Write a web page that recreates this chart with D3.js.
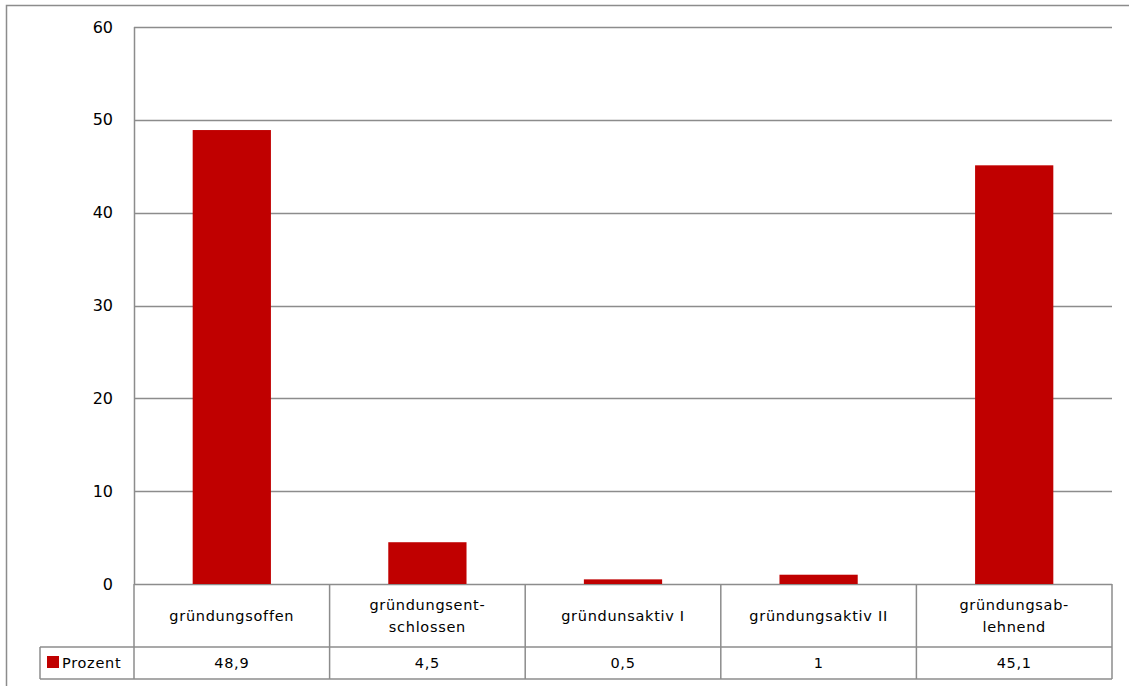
<!DOCTYPE html>
<html>
<head>
<meta charset="utf-8">
<script src="https://cdn.jsdelivr.net/npm/d3@7"></script>
<style>
  html, body { margin: 0; padding: 0; background: #fff; }
  svg { display: block; }
  text { font-family: "DejaVu Sans", sans-serif; fill: #000; }
</style>
</head>
<body>
<svg id="chart" width="1129" height="686"></svg>
<script>
// Data
const categories = [
  ["gründungsoffen"],
  ["gründungsent-", "schlossen"],
  ["gründunsaktiv I"],
  ["gründungsaktiv II"],
  ["gründungsab-", "lehnend"]
];
const values = [48.9, 4.5, 0.5, 1, 45.1];
const valueLabels = ["48,9", "4,5", "0,5", "1", "45,1"];
const seriesName = "Prozent";
const yTicks = [0, 10, 20, 30, 40, 50, 60];

const svg = d3.select("#chart");
const W = 1129, H = 686;
const plot = { left: 134, right: 1112, top: 27, bottom: 584 };
const rowCatBottom = 647, rowDataBottom = 679, legendLeft = 40;
const gridColor = "#8c8c8c";
const barColor = "#c00000";
const labelSize = 14.5, labelSpacing = "0.7px";

// Outer chart frame
svg.append("rect")
  .attr("x", 6.5).attr("y", 5.5)
  .attr("width", W + 10).attr("height", H + 10)
  .attr("fill", "none").attr("stroke", gridColor).attr("stroke-width", 1.5);

const x = d3.scaleBand()
  .domain(d3.range(categories.length))
  .range([plot.left, plot.right])
  .paddingInner(0).paddingOuter(0);

const y = d3.scaleLinear().domain([0, 60]).range([plot.bottom, plot.top]);

// Horizontal gridlines
svg.append("g").selectAll("line")
  .data(yTicks)
  .join("line")
  .attr("x1", plot.left).attr("x2", plot.right)
  .attr("y1", d => Math.round(y(d)) + 0.5).attr("y2", d => Math.round(y(d)) + 0.5)
  .attr("stroke", gridColor).attr("stroke-width", 1.5);

// Value axis labels
const yAxis = d3.axisLeft(y).tickValues(yTicks).tickSize(0).tickPadding(21);
const ya = svg.append("g").attr("transform", `translate(${plot.left},0)`).call(yAxis);
ya.select(".domain").remove();
ya.selectAll("text")
  .attr("font-family", "DejaVu Sans, sans-serif")
  .attr("font-size", 16)
  .attr("fill", "#000");

// Vertical axis line
svg.append("line")
  .attr("x1", plot.left + 0.5).attr("x2", plot.left + 0.5)
  .attr("y1", plot.top).attr("y2", plot.bottom)
  .attr("stroke", gridColor).attr("stroke-width", 1.5);

// Bars
const barW = x.bandwidth() * 0.4;
svg.append("g").selectAll("rect")
  .data(values)
  .join("rect")
  .attr("x", (d, i) => x(i) + (x.bandwidth() - barW) / 2)
  .attr("y", d => y(d))
  .attr("width", barW)
  .attr("height", d => y(0) - y(d))
  .attr("fill", barColor);

// Data table
const tbl = svg.append("g").attr("fill", "none").attr("stroke", gridColor).attr("stroke-width", 1.5);
tbl.append("line").attr("x1", legendLeft).attr("x2", plot.right)
  .attr("y1", rowCatBottom).attr("y2", rowCatBottom);
tbl.append("line").attr("x1", legendLeft).attr("x2", plot.right)
  .attr("y1", rowDataBottom).attr("y2", rowDataBottom);
tbl.append("line").attr("x1", legendLeft).attr("x2", legendLeft)
  .attr("y1", rowCatBottom).attr("y2", rowDataBottom);
tbl.selectAll(".sep")
  .data(d3.range(categories.length + 1))
  .join("line")
  .attr("x1", i => i < categories.length ? x(i) : plot.right)
  .attr("x2", i => i < categories.length ? x(i) : plot.right)
  .attr("y1", plot.bottom).attr("y2", rowDataBottom);

// Category labels
const catG = svg.append("g");
categories.forEach((lines, i) => {
  const cx = x(i) + x.bandwidth() / 2;
  const midY = (plot.bottom + rowCatBottom) / 2;
  const lh = 22;
  lines.forEach((t, j) => {
    catG.append("text")
      .attr("x", cx)
      .attr("y", midY + (j - (lines.length - 1) / 2) * lh)
      .attr("dy", "0.35em")
      .attr("text-anchor", "middle")
      .attr("font-size", labelSize)
      .attr("letter-spacing", labelSpacing)
      .text(t);
  });
});

// Value row
svg.append("g").selectAll("text")
  .data(valueLabels)
  .join("text")
  .attr("x", (d, i) => x(i) + x.bandwidth() / 2)
  .attr("y", (rowCatBottom + rowDataBottom) / 2)
  .attr("dy", "0.35em")
  .attr("text-anchor", "middle")
  .attr("font-size", labelSize)
  .attr("letter-spacing", labelSpacing)
  .text(d => d);

// Legend key in the table
const ly = (rowCatBottom + rowDataBottom) / 2;
svg.append("rect")
  .attr("x", 47).attr("y", ly - 7)
  .attr("width", 12).attr("height", 12)
  .attr("fill", barColor);
svg.append("text")
  .attr("x", 62).attr("y", ly).attr("dy", "0.35em")
  .attr("font-size", labelSize)
  .attr("letter-spacing", labelSpacing)
  .text(seriesName);
</script>
</body>
</html>
